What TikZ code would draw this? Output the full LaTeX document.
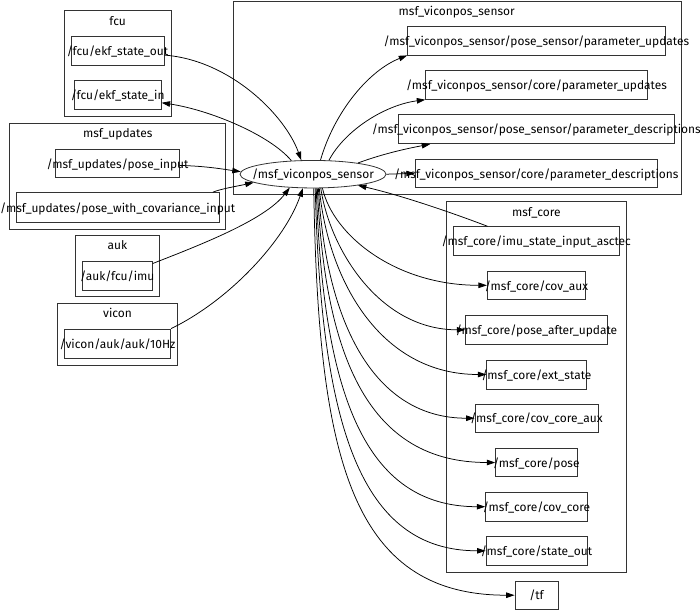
\documentclass[tikz,border=0pt]{standalone}
\usepackage{fontspec}
\setmainfont{Fira Sans}
\usetikzlibrary{shapes.geometric,arrows.meta}
\newcommand{\ctext}[1]{\makebox[0pt]{#1}}
\tikzset{
  topic/.style={draw=black!80, line width=0.8pt, inner sep=0pt, minimum height=29pt, text height=9.4pt, text depth=0pt},
  clusterbox/.style={draw=black!80, line width=0.8pt, inner sep=0pt},
  clabel/.style={inner sep=0pt, text height=9.4pt, text depth=0pt},
  edge/.style={line width=0.75pt, -{Triangle[length=8.5pt,width=5.5pt]}},
}
\begin{document}
\begin{tikzpicture}[x=1pt, y=-1pt, font=\fontsize{11.95}{14}\selectfont]
\useasboundingbox (0,0) rectangle (700,610);
% clusters
\node[clusterbox, minimum width=106.7pt, minimum height=106pt] (cfcu) at (117.65,63.7) {};
\node[clabel] (lfcu) at (117.65,20.5) {\ctext{fcu}};
\node[clusterbox, minimum width=216pt, minimum height=106pt] (cupd) at (117.7,176.3) {};
\node[clabel] (lupd) at (117.7,132.5) {\ctext{msf\_updates}};
\node[clusterbox, minimum width=83.6pt, minimum height=61.4pt] (cauk) at (117.5,266) {};
\node[clabel] (lauk) at (117.5,245) {\ctext{auk}};
\node[clusterbox, minimum width=119.6pt, minimum height=61.7pt] (cvicon) at (117.5,334.2) {};
\node[clabel] (lvicon) at (117.5,313) {\ctext{vicon}};
\node[clusterbox, minimum width=448.4pt, minimum height=193.3pt] (csensor) at (457.5,97.7) {};
\node[clabel] (lsensor) at (456.7,10.5) {\ctext{msf\_viconpos\_sensor}};
\node[clusterbox, minimum width=180.7pt, minimum height=371.3pt] (ccore) at (536.35,386.7) {};
\node[clabel] (lcore) at (536.35,211.3) {\ctext{msf\_core}};
% topics left
\node[topic, minimum width=93pt] (ekfout) at (117.5,51) {\ctext{/fcu/ekf\_state\_out}};
\node[topic, minimum width=87pt, minimum height=28.7pt] (ekfin) at (117.7,95) {\ctext{/fcu/ekf\_state\_in}};
\node[topic, minimum width=123.6pt, minimum height=28.7pt] (poseinput) at (117.5,163.3) {\ctext{/msf\_updates/pose\_input}};
\node[topic, minimum width=202.7pt, minimum height=29.3pt] (posecov) at (117.7,207.3) {\ctext{/msf\_updates/pose\_with\_covariance\_input}};
\node[topic, minimum width=70pt, minimum height=28.7pt] (imu) at (117.3,275.7) {\ctext{/auk/fcu/imu}};
\node[topic, minimum width=106.4pt] (vicon10) at (117.5,343.5) {\ctext{/vicon/auk/auk/10Hz}};
% sensor node
\node[ellipse, draw=black!80, line width=0.8pt, minimum width=146pt, minimum height=27.5pt, inner sep=0pt, text height=9.4pt, text depth=0pt] (sensor) at (313,174.2) {\ctext{/msf\_viconpos\_sensor}};
% sensor topics
\node[topic, minimum width=257.3pt] (psup) at (536.3,40.5) {\ctext{/msf\_viconpos\_sensor/pose\_sensor/parameter\_updates}};
\node[topic, minimum width=221.6pt] (cup) at (536.5,84.8) {\ctext{/msf\_viconpos\_sensor/core/parameter\_updates}};
\node[topic, minimum width=276pt] (psdesc) at (536.3,129.2) {\ctext{/msf\_viconpos\_sensor/pose\_sensor/parameter\_descriptions}};
\node[topic, minimum width=242pt, minimum height=28.7pt] (cdesc) at (536.3,173.3) {\ctext{/msf\_viconpos\_sensor/core/parameter\_descriptions}};
% core topics
\node[topic, minimum width=166pt] (asctec) at (536.3,241.2) {\ctext{/msf\_core/imu\_state\_input\_asctec}};
\node[topic, minimum width=98.4pt, minimum height=28.7pt] (covaux) at (536.5,285.3) {\ctext{/msf\_core/cov\_aux}};
\node[topic, minimum width=141.6pt, minimum height=28.3pt] (poseafter) at (536.5,329.8) {\ctext{/msf\_core/pose\_after\_update}};
\node[topic, minimum width=99.6pt] (extstate) at (536.5,374.5) {\ctext{/msf\_core/ext\_state}};
\node[topic, minimum width=123pt, minimum height=28.3pt] (covcoreaux) at (536.5,418.2) {\ctext{/msf\_core/cov\_core\_aux}};
\node[topic, minimum width=81.3pt, minimum height=28.4pt] (pose) at (536.3,462.5) {\ctext{/msf\_core/pose}};
\node[topic, minimum width=101.6pt, minimum height=28.7pt] (covcore) at (536.5,506.7) {\ctext{/msf\_core/cov\_core}};
\node[topic, minimum width=101pt, minimum height=28.3pt] (stateout) at (536.5,550.8) {\ctext{/msf\_core/state\_out}};
\node[topic, minimum width=43pt, minimum height=28.3pt] (tf) at (536.5,595.2) {\ctext{/tf}};
% edges
\draw[edge] (ekfout.-5) .. controls (230,60) and (285,115) .. (sensor.130);
\draw[edge] (sensor.148) .. controls (270,135) and (210,110) .. (ekfin.-10.4);
\draw[edge] (poseinput.-2.2) .. controls (205,166) and (222,169) .. (sensor.178);
\draw[edge] (posecov.9.8) .. controls (220,189) and (238,186) .. (sensor.188);
\draw[edge] (imu.19.5) .. controls (200,245) and (265,220) .. (sensor.-150.5);
\draw[edge] (vicon10.north east) .. controls (230,300) and (285,240) .. (sensor.-126.4);
\draw[edge] (sensor.62.8) .. controls (335,110) and (370,70) .. (psup.south west);
\draw[edge] (sensor.41.8) .. controls (345,130) and (385,105) .. (cup.south west);
\draw[edge] (sensor.14.9) .. controls (385,153) and (410,148) .. (psdesc.188.1);
\draw[edge] (sensor.east) -- (cdesc.west);
\draw[edge] (asctec.163.2) .. controls (450,212) and (400,195) .. (sensor.-14.9);
\draw[edge] (sensor.-56.5) .. controls (333,235) and (395,285.3) .. (covaux.west);
\draw[edge] (sensor.-61.1) .. controls (330,250) and (380,329.8) .. (poseafter.west);
\draw[edge] (sensor.-66.3) .. controls (328,280) and (380,374.5) .. (extstate.west);
\draw[edge] (sensor.-69.9) .. controls (326,325) and (375,418.2) .. (covcoreaux.west);
\draw[edge] (sensor.-73.6) .. controls (325,360) and (370,462.5) .. (pose.west);
\draw[edge] (sensor.-77.6) .. controls (323,395) and (365,506.7) .. (covcore.west);
\draw[edge] (sensor.-81.7) .. controls (321,425) and (360,550.8) .. (stateout.west);
\draw[edge] (sensor.-87.9) .. controls (318,455) and (350,595.2) .. (tf.west);
\end{tikzpicture}
\end{document}
